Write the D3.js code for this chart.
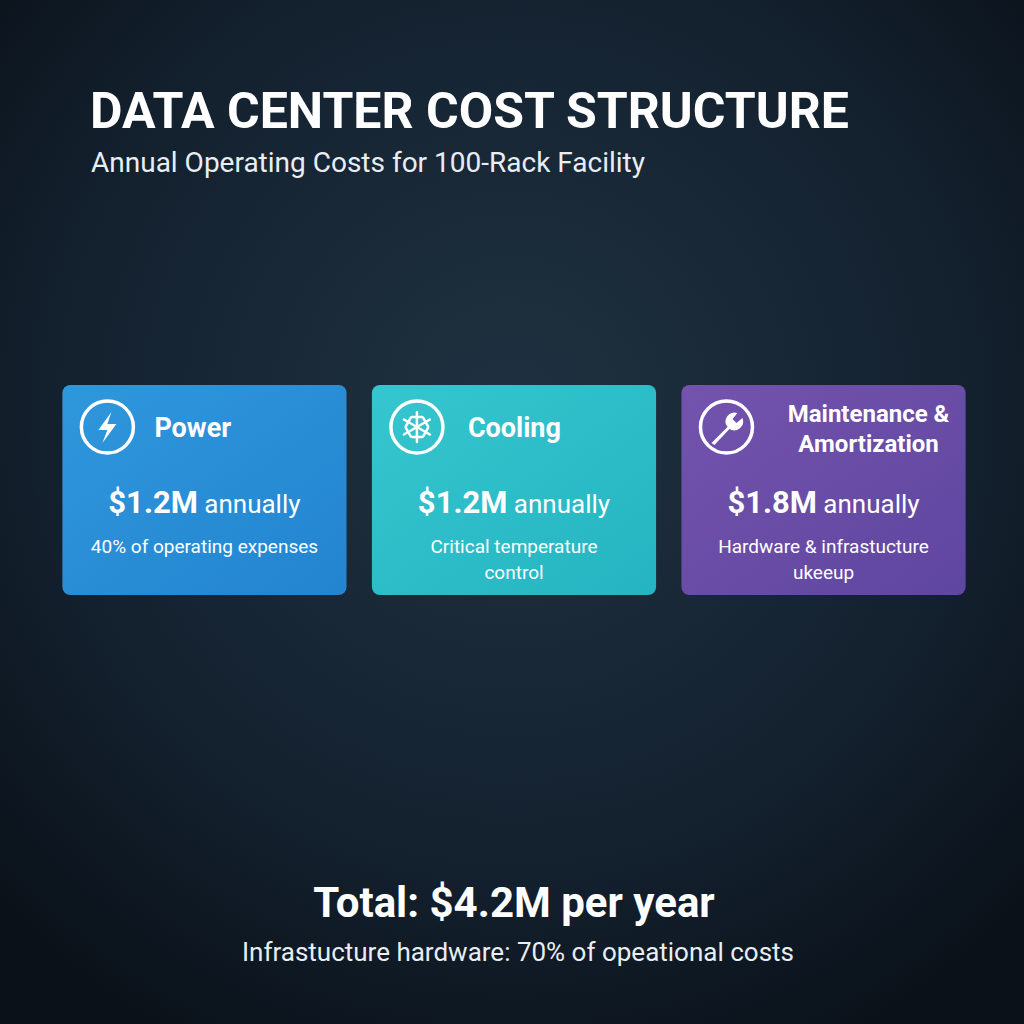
<!DOCTYPE html>
<html><head><meta charset="utf-8">
<script src="https://cdn.jsdelivr.net/npm/d3@7"></script>
<style>body{margin:0;background:#0e1620}svg{display:block}</style>
</head><body>
<svg id="c" width="1024" height="1024"></svg>
<script>
const categories = ["Power", "Cooling", "Maintenance & Amortization"];
const titleLines = [["Power"], ["Cooling"], ["Maintenance &", "Amortization"]];
const values = [1.2, 1.2, 1.8];
const descriptions = [["40% of operating expenses"], ["Critical temperature", "control"], ["Hardware & infrastucture", "ukeeup"]];
const total = 4.2;
const colors = [["#2f97dc","#2384d0"], ["#35c6cf","#25b4c1"], ["#7353ad","#5f46a0"]];

const svg = d3.select("#c");
const defs = svg.append("defs");
const bg = defs.append("radialGradient").attr("id","bg").attr("cx","50%").attr("cy","40%").attr("r","70%");
bg.append("stop").attr("offset","0%").attr("stop-color","#1f3140");
bg.append("stop").attr("offset","60%").attr("stop-color","#142230");
bg.append("stop").attr("offset","100%").attr("stop-color","#0a1119");
svg.append("rect").attr("width",1024).attr("height",1024).attr("fill","url(#bg)");
colors.forEach((c,i)=>{
  const g = defs.append("linearGradient").attr("id","g"+i).attr("x1","0").attr("y1","0").attr("x2","1").attr("y2","1");
  g.append("stop").attr("offset","0%").attr("stop-color",c[0]);
  g.append("stop").attr("offset","100%").attr("stop-color",c[1]);
});

const font = "Roboto, 'Noto Sans', sans-serif";
svg.append("text").attr("x",90).attr("y",128).attr("fill","#fff").attr("font-family",font)
  .attr("font-weight",700).attr("font-size",50).text("DATA CENTER COST STRUCTURE");
svg.append("text").attr("x",91).attr("y",172).attr("fill","#e8eef3").attr("font-family",font)
  .attr("font-size",28).text("Annual Operating Costs for 100-Rack Facility");

const x = d3.scaleBand().domain(categories).range([50,978]).paddingInner(0.082).paddingOuter(0.04);
const cardTop = 385, h = 210;
const cards = svg.selectAll("g.card").data(categories).join("g").attr("class","card")
  .attr("transform", d=>`translate(${x(d)},${cardTop})`);
cards.append("rect").attr("width",x.bandwidth()).attr("height",h).attr("rx",8)
  .attr("fill",(d,i)=>`url(#g${i})`);
cards.append("circle").attr("cx",45).attr("cy",42).attr("r",26).attr("fill","none")
  .attr("stroke","#fff").attr("stroke-width",3.5);
cards.filter((d,i)=>i===0).append("path").attr("d","M49 27 L36 45 L45 45 L40 58 L54 39 L45 39 Z").attr("fill","#fff");
const snow = cards.filter((d,i)=>i===1).append("g").attr("transform","translate(45,42)")
  .attr("stroke","#fff").attr("stroke-width",2.5).attr("stroke-linecap","round");
[0,60,120].forEach(a=>{
  const s = snow.append("g").attr("transform",`rotate(${a})`);
  s.append("line").attr("x1",0).attr("y1",-15).attr("x2",0).attr("y2",15);
  [-1,1].forEach(k=>{
    s.append("path").attr("fill","none").attr("d",`M-5 ${k*15+(k>0?-5:5)} L0 ${k*10} L5 ${k*15+(k>0?-5:5)}`);
  });
});
cards.filter((d,i)=>i===2).append("path")
  .attr("d","M30 58 L46 42 A9 9 0 0 1 56 28 L51 34 L55 38 L61 33 A9 9 0 0 1 48 44 L33 60 Z")
  .attr("fill","#fff");
cards.each(function(d,i){
  const g = d3.select(this);
  const tl = titleLines[i];
  const tx = i===2 ? x.bandwidth()/2+45 : (i===0?92:96);
  const t = g.append("text").attr("fill","#fff").attr("font-family",font).attr("font-weight",700)
    .attr("font-size", i===2?24:27).attr("text-anchor", i===2?"middle":"start");
  tl.forEach((l,j)=>t.append("tspan").attr("x",tx).attr("y", tl.length>1 ? 37+j*30 : 52).text(l));
  const v = g.append("text").attr("x",x.bandwidth()/2).attr("y",128).attr("text-anchor","middle")
    .attr("fill","#fff").attr("font-family",font);
  v.append("tspan").attr("font-weight",700).attr("font-size",31).text(`$${values[i].toFixed(1)}M`);
  v.append("tspan").attr("font-size",26).text(" annually");
  const ds = g.append("text").attr("text-anchor","middle").attr("fill","#fff").attr("font-family",font).attr("font-size",19);
  descriptions[i].forEach((l,j)=>ds.append("tspan").attr("x",x.bandwidth()/2).attr("y",168+j*26).text(l));
});

svg.append("text").attr("x",514).attr("y",917).attr("text-anchor","middle").attr("fill","#fff")
  .attr("font-family",font).attr("font-weight",700).attr("font-size",42).text(`Total: $${total.toFixed(1)}M per year`);
svg.append("text").attr("x",518).attr("y",961).attr("text-anchor","middle").attr("fill","#e8eef3")
  .attr("font-family",font).attr("font-size",26).text("Infrastucture hardware: 70% of opeational costs");
</script>
</body></html>
